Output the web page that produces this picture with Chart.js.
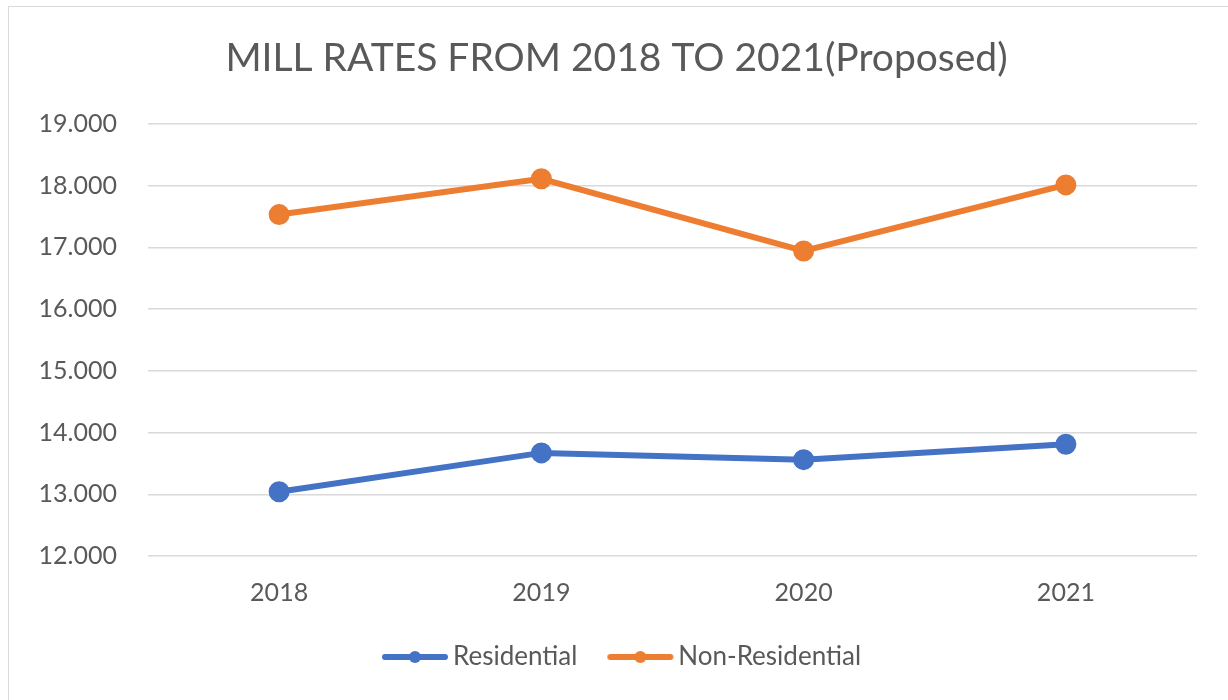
<!DOCTYPE html>
<html>
<head>
<meta charset="utf-8">
<script src="https://cdn.jsdelivr.net/npm/chart.js@4.4.1/dist/chart.umd.min.js"></script>
<style>
  html, body { margin: 0; padding: 0; background: #fff; }
  #frame {
    position: absolute; left: 8px; top: 6px; width: 1240px; height: 720px;
    border: 1px solid #d9d9d9; box-sizing: border-box;
  }
  #wrap { position: absolute; left: 0; top: 0; width: 1228px; height: 700px; }
</style>
</head>
<body>
<div id="frame"></div>
<div id="wrap"><canvas id="millChart"></canvas></div>
<script>
// mill rates per year
const years = ['2018', '2019', '2020', '2021'];
const residential = [13.04, 13.67, 13.56, 13.81];
const nonResidential = [17.53, 18.11, 16.94, 18.01];
const yTicks = [12, 13, 14, 15, 16, 17, 18, 19];

const BLUE = '#4472C4';
const ORANGE = '#ED7D31';
const TEXT = '#595959';
const FONT = 'Lato, "Open Sans", sans-serif';

// legend marker: a short thick line with a dot in the middle.
// the canvas is wider than the mark so the mark sits close to its label
function legendMarker(color) {
    const c = document.createElement('canvas');
    c.width = 120; c.height = 16;
    const g = c.getContext('2d');
    const x0 = 36;
    g.strokeStyle = color;
    g.lineWidth = 6;
    g.lineCap = 'round';
    g.beginPath();
    g.moveTo(x0 + 3, 8); g.lineTo(x0 + 63, 8);
    g.stroke();
    g.fillStyle = color;
    g.beginPath();
    g.arc(x0 + 33, 8, 6, 0, Math.PI * 2);
    g.fill();
    return c;
}

const ctx = document.getElementById('millChart').getContext('2d');
new Chart(ctx, {
    type: 'line',
    data: {
        labels: years,
        datasets: [{
            label: 'Residential',
            data: residential,
            borderColor: BLUE,
            backgroundColor: BLUE,
            borderWidth: 6,
            pointRadius: 7.5,
            pointHoverRadius: 7.5,
            tension: 0
        }, {
            label: 'Non-Residential',
            data: nonResidential,
            borderColor: ORANGE,
            backgroundColor: ORANGE,
            borderWidth: 6,
            pointRadius: 7.5,
            pointHoverRadius: 7.5,
            tension: 0
        }]
    },
    options: {
        responsive: true,
        maintainAspectRatio: false,
        animation: false,
        layout: { padding: { left: 36, right: 31, top: 0, bottom: 20 } },
        plugins: {
            title: {
                display: true,
                text: 'MILL RATES FROM 2018 TO 2021(Proposed)',
                color: TEXT,
                font: { family: FONT, size: 39, weight: 'normal' },
                padding: { top: 35, bottom: 42 }
            },
            legend: {
                position: 'bottom',
                labels: {
                    color: TEXT,
                    font: { family: FONT, size: 26 },
                    usePointStyle: true,
                    pointStyleWidth: 68,
                    padding: 20,
                    generateLabels: (chart) => chart.data.datasets.map((ds, i) => ({
                        text: ds.label,
                        fontColor: TEXT,
                        pointStyle: legendMarker(ds.borderColor),
                        datasetIndex: i,
                        hidden: false,
                        lineWidth: 0,
                        strokeStyle: 'transparent',
                        fillStyle: 'transparent'
                    }))
                }
            },
            tooltip: { enabled: false }
        },
        scales: {
            x: {
                offset: true,
                grid: { display: false, drawTicks: false },
                border: { display: false },
                ticks: {
                    color: TEXT,
                    font: { family: FONT, size: 25 },
                    padding: 22
                },
                afterFit: (scale) => { scale.height = 68; }
            },
            y: {
                min: 12,
                max: 19,
                afterBuildTicks: (scale) => { scale.ticks = yTicks.map(v => ({ value: v })); },
                grid: { color: '#d9d9d9', lineWidth: 1.5, drawTicks: false },
                border: { display: false },
                ticks: {
                    color: TEXT,
                    font: { family: FONT, size: 25 },
                    padding: 31,
                    callback: (v) => v.toFixed(3)
                },
                afterFit: (scale) => { scale.width = 112; }
            }
        }
    }
});
</script>
</body>
</html>
